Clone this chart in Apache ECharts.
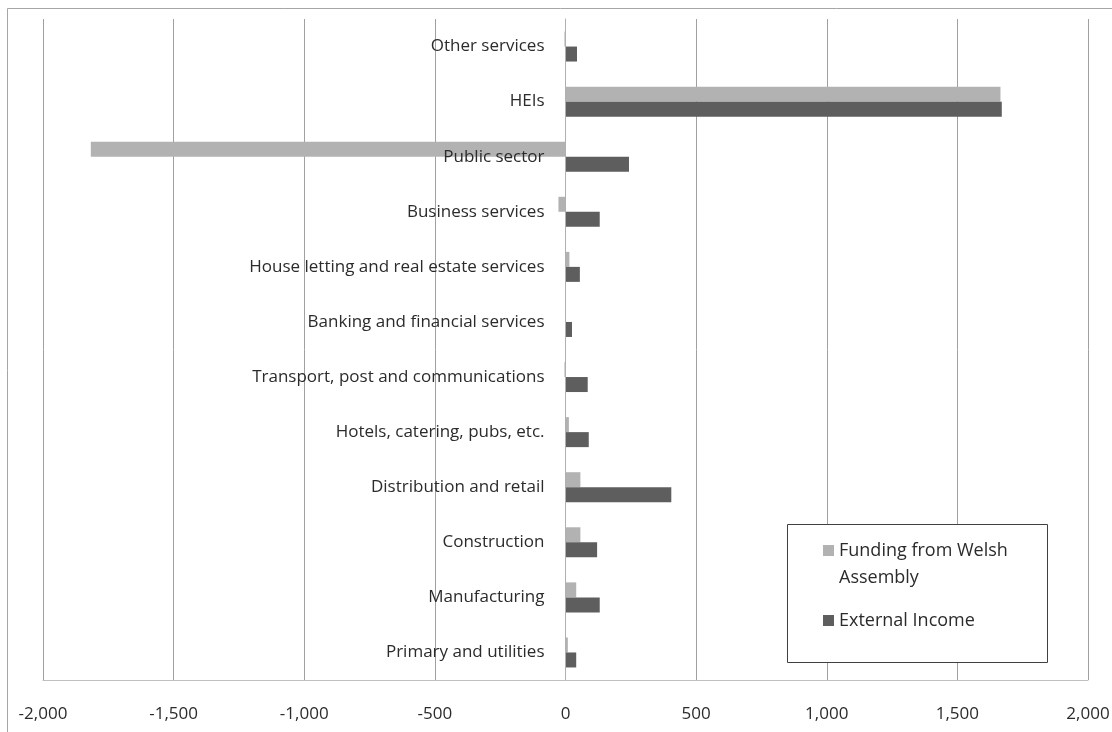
<!DOCTYPE html>
<html>
<head>
<meta charset="utf-8">
<script src="https://cdn.jsdelivr.net/npm/echarts@6/dist/echarts.min.js"></script>
<style>
    html, body { margin: 0; padding: 0; background: #fff; }
    #main { width: 1112px; height: 732px; }
</style>
</head>
<body>
<div id="main"></div>
<script>
    // categories listed top to bottom
    var categories = ['Other services', 'HEIs', 'Public sector', 'Business services',
        'House letting and real estate services', 'Banking and financial services',
        'Transport, post and communications', 'Hotels, catering, pubs, etc.',
        'Distribution and retail', 'Construction', 'Manufacturing', 'Primary and utilities'];
    var fundingWelsh = [-4, 1665, -1817, -27, 15, 2, -4, 13, 57, 57, 41, 9];
    var externalIncome = [44, 1670, 243, 131, 55, 25, 85, 89, 405, 121, 131, 41];
    var xTicks = { min: -2000, max: 2000, interval: 500 };

    var font = 'Open Sans';
    var textColor = '#2b2b2b';
    var gridLeft = 43, gridRight = 24;
    // category axis sits on the zero line, in the middle of the grid
    var zeroOffset = (1112 - gridLeft - gridRight) / 2;

    var chart = echarts.init(document.getElementById('main'));
    chart.setOption({
        animation: false,
        textStyle: { fontFamily: font },
        grid: { left: gridLeft, right: gridRight, top: 19, bottom: 52, containLabel: false, outerBoundsMode: 'none' },
        graphic: [
            {
                type: 'rect', z: 0, silent: true,
                shape: { x: 7.5, y: 8.5, width: 1300, height: 900 },
                style: { fill: null, stroke: '#a6a6a6', lineWidth: 1 }
            },
            {
                type: 'rect', z: 10, silent: true,
                shape: { x: 787.5, y: 524.5, width: 260, height: 138 },
                style: { fill: '#fff', stroke: '#404040', lineWidth: 1 }
            }
        ],
        legend: {
            z: 20,
            orient: 'vertical',
            left: 818,
            top: 505,
            itemWidth: 11,
            itemHeight: 11,
            itemGap: 16,
            icon: 'rect',
            data: ['Funding from Welsh Assembly', 'External Income'],
            formatter: function (name) {
                return name === 'Funding from Welsh Assembly' ? ' \nFunding from Welsh\nAssembly' : name;
            },
            textStyle: { fontFamily: font, fontSize: 18, color: textColor, lineHeight: 27, padding: [0, 0, 0, 0] }
        },
        xAxis: {
            type: 'value',
            min: xTicks.min,
            max: xTicks.max,
            interval: xTicks.interval,
            axisLine: { show: true, lineStyle: { color: '#c0c0c0' } },
            axisTick: { show: false },
            splitLine: { lineStyle: { color: '#a0a0a0' } },
            axisLabel: {
                margin: 26,
                fontSize: 17,
                fontFamily: font,
                color: textColor,
                formatter: function (v) { return v.toLocaleString('en-US'); }
            }
        },
        yAxis: {
            type: 'category',
            inverse: true,
            position: 'left',
            offset: -zeroOffset,
            z: 5,
            data: categories,
            axisLine: { onZero: false, lineStyle: { color: '#b0b0b0' } },
            axisTick: { show: false },
            axisLabel: { margin: 21, fontSize: 17, fontFamily: font, color: textColor }
        },
        series: [
            {
                name: 'Funding from Welsh Assembly',
                type: 'bar',
                data: fundingWelsh,
                barWidth: 15,
                barGap: '0%',
                itemStyle: { color: '#b2b2b2' }
            },
            {
                name: 'External Income',
                type: 'bar',
                data: externalIncome,
                barWidth: 15,
                itemStyle: { color: '#5e5e5e' }
            }
        ]
    });
</script>
</body>
</html>
